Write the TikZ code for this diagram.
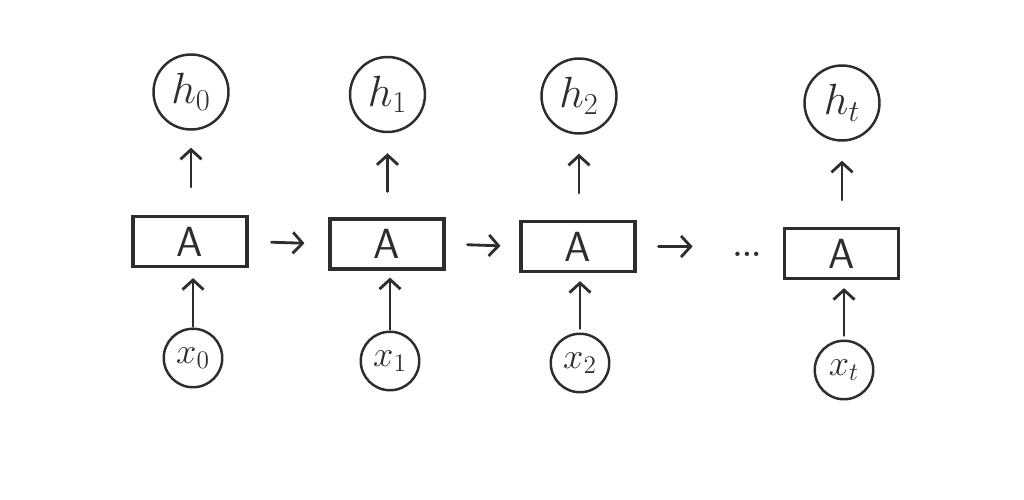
\documentclass[tikz,border=0pt]{standalone}
\usetikzlibrary{arrows.meta}
\definecolor{ink}{RGB}{45,45,48}
\begin{document}
\begin{tikzpicture}[x=0.02cm,y=-0.02cm,
  every node/.style={text=ink},
  hcirc/.style={circle,draw=ink,line width=1.4pt,minimum size=1.5cm,inner sep=0pt,font=\fontsize{24}{28}\selectfont},
  xcirc/.style={circle,draw=ink,line width=1.4pt,minimum size=1.17cm,inner sep=0pt,font=\fontsize{22}{26}\selectfont},
  cell/.style={rectangle,draw=ink,line width=1.8pt,minimum width=2.28cm,minimum height=1.0cm,inner sep=0pt,font=\sffamily\fontsize{24}{28}\selectfont},
  arr/.style={draw=ink,line width=1.6pt,line cap=round,-{Straight Barb[length=5.5pt,width=12pt,line width=1.6pt]}}
]
\useasboundingbox (0,0) rectangle (1024,500);
\fill[white] (0,0) rectangle (1024,500);

% top hidden states
\node[hcirc] (h0) at (191,92)  {$h_0$};
\node[hcirc] (h1) at (387.5,94.5) {$h_1$};
\node[hcirc] (h2) at (579,96)  {$h_2$};
\node[hcirc] (ht) at (842,103) {$h_t$};

% cells
\node[cell] (A1) at (190,241.5) {A};
\node[cell] (A2) at (387,244)   {A};
\node[cell] (A3) at (578,246.5) {A};
\node[cell] (A4) at (841.5,253.5) {A};

% inputs
\node[xcirc] (x0) at (193,358) {$x_0$};
\node[xcirc] (x1) at (390,361) {$x_1$};
\node[xcirc] (x2) at (580,363) {$x_2$};
\node[xcirc] (xt) at (844,370) {$x_t$};

% dots
\node[inner sep=0pt,font=\bfseries\fontsize{17}{20}\selectfont] (dots) at (747,254) {...};

% upward arrows to hidden states
\draw[arr,shorten <=0.56cm,shorten >=0.34cm] (A1.north -| h0.south) -- (h0.south);
\draw[arr,shorten <=0.52cm,shorten >=0.40cm] (A2.north -| h1.south) -- (h1.south);
\draw[arr,shorten <=0.54cm,shorten >=0.38cm] (A3.north -| h2.south) -- (h2.south);
\draw[arr,shorten <=0.54cm,shorten >=0.38cm] (A4.north -| ht.south) -- (ht.south);

% inputs to cells
\draw[arr,shorten <=0.02cm,shorten >=0.20cm] (x0.north) -- (x0.north |- A1.south);
\draw[arr,shorten <=0.02cm,shorten >=0.14cm] (x1.north) -- (x1.north |- A2.south);
\draw[arr,shorten <=0.08cm,shorten >=0.16cm] (x2.north) -- (x2.north |- A3.south);
\draw[arr,shorten <=0.08cm,shorten >=0.16cm] (xt.north) -- (xt.north |- A4.south);

% recurrent arrows
\draw[arr,shorten <=0.46cm,shorten >=0.48cm] (A1.east) -- (A2.west);
\draw[arr,shorten <=0.44cm,shorten >=0.38cm] (A2.east) -- (A3.west);
\draw[arr,shorten <=0.44cm,shorten >=0.80cm] (A3.east) -- (A3.east -| dots.west);
\end{tikzpicture}
\end{document}
